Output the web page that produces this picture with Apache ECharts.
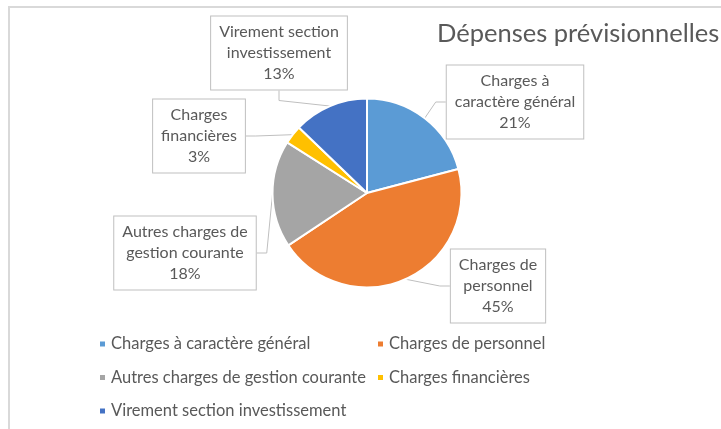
<!DOCTYPE html>
<html lang="fr">
<head>
    <meta charset="UTF-8">
    <title>Dépenses prévisionnelles</title>
    <script src="https://cdn.jsdelivr.net/npm/echarts@6.0.0/dist/echarts.min.js"></script>
    <style>
        html, body {
            margin: 0;
            padding: 0;
            background: #fff;
        }
        #chart {
            width: 721px;
            height: 429px;
        }
    </style>
</head>
<body>

<div id="chart"></div>

<script>
// données
const categories = [
    'Charges à caractère général',
    'Charges de personnel',
    'Autres charges de gestion courante',
    'Charges financières',
    'Virement section investissement'
];
const values = [20.9, 44.7, 18.3, 3.2, 12.8];
const labelLines = [
    'Charges à\ncaractère général',
    'Charges de\npersonnel',
    'Autres charges de\ngestion courante',
    'Charges\nfinancières',
    'Virement section\ninvestissement'
];
const colors = ['#5B9BD5', '#ED7D31', '#A5A5A5', '#FFC000', '#4472C4'];

// centre des étiquettes (mise en page)
const labelPos = [
    [515, 102],
    [498, 286],
    [185, 253],
    [199, 136],
    [279, 53]
];

const FONT = 'Lato';
const TXT = '#595959';

function legendCol(left, names) {
    return {
        orient: 'vertical',
        left: left,
        top: 334,
        height: 95,
        padding: 0,
        itemWidth: 7,
        itemHeight: 7,
        itemGap: 13.5,
        icon: 'rect',
        data: names,
        textStyle: { fontFamily: FONT, fontSize: 16.5, color: TXT, lineHeight: 20 }
    };
}

function initChart() {
    const myChart = echarts.init(document.getElementById('chart'));
    const option = {
        animation: false,
        color: colors,
        title: {
            text: 'Dépenses prévisionnelles',
            left: 437,
            top: 21,
            padding: 0,
            textStyle: {
                fontFamily: FONT,
                fontSize: 25.5,
                fontWeight: 'normal',
                color: TXT
            }
        },
        graphic: [
            {
                type: 'polyline',
                shape: { points: [[9, 429], [9, 7], [721, 7]] },
                style: { stroke: '#d9d9d9', lineWidth: 2, fill: null }
            }
        ],
        legend: [
            legendCol(98, [categories[0], categories[2], categories[4]]),
            legendCol(376, [categories[1], categories[3]])
        ],
        series: [
            {
                type: 'pie',
                center: [367, 193],
                radius: 94.5,
                startAngle: 90,
                clockwise: true,
                data: categories.map((name, i) => ({ name: name, value: values[i] })),
                itemStyle: {
                    borderColor: '#fff',
                    borderWidth: 2
                },
                emphasis: { scale: false },
                label: {
                    show: true,
                    position: 'outside',
                    formatter: p => labelLines[p.dataIndex] + '\n' + Math.round(p.percent) + '%',
                    fontFamily: FONT,
                    fontSize: 16,
                    lineHeight: 21,
                    color: TXT,
                    align: 'center',
                    backgroundColor: '#fff',
                    borderColor: '#bfbfbf',
                    borderWidth: 1,
                    padding: [5, 8, 5, 8]
                },
                labelLine: {
                    show: true,
                    length: 10,
                    length2: 10,
                    lineStyle: { color: '#bfbfbf', width: 1 }
                },
                labelLayout: function (params) {
                    const p = labelPos[params.dataIndex];
                    return {
                        x: p[0],
                        y: p[1],
                        align: 'center',
                        verticalAlign: 'middle'
                    };
                }
            }
        ]
    };
    myChart.setOption(option);
}

initChart();
</script>

</body>
</html>
